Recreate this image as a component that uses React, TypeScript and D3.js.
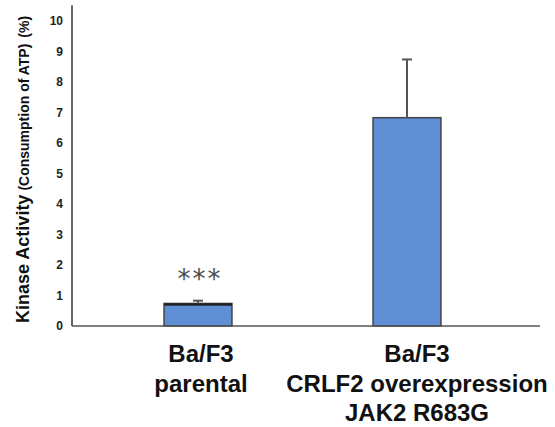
import React from "react";
import * as d3 from "d3";

// Kinase activity by cell line (mean ± error, % ATP consumed)
const groups = ["parental", "jak2"];
const groupLabels: string[][] = [
  ["Ba/F3", "parental"],
  ["Ba/F3", "CRLF2 overexpression", "JAK2 R683G"],
];
const means = [0.74, 6.83];
const errors = [0.09, 1.91];
const significance = ["***", ""];
const yTicks = [0, 1, 2, 3, 4, 5, 6, 7, 8, 9, 10];

const W = 555;
const H = 427;
const axisX = 72;
const axisRight = 540;
const yMaxLine = 10.52;

export default function App() {
  const y = d3.scaleLinear().domain([0, 10]).range([326, 21]);
  const x = d3
    .scaleBand<string>()
    .domain(groups)
    .range([93.5, 511.5])
    .paddingInner(0.675)
    .paddingOuter(0.3375);
  const bw = x.bandwidth();
  const labelShift = [3, 10];
  const font = "'Liberation Sans', Arial, Helvetica, sans-serif";

  return (
    <svg
      width={W}
      height={H}
      style={{ position: "absolute", left: 0, top: 0, background: "#fff" }}
      fontFamily={font}
    >
      {/* bars */}
      {groups.map((g, i) => (
        <rect
          key={g}
          x={x(g)!}
          y={y(means[i])}
          width={bw}
          height={y(0) - y(means[i])}
          fill="#5e8fd4"
          stroke="#444"
          strokeWidth={1.5}
        />
      ))}
      {/* darker top edge on the small bar */}
      <line
        x1={x(groups[0])!}
        x2={x(groups[0])! + bw}
        y1={y(means[0]) + 1}
        y2={y(means[0]) + 1}
        stroke="#222"
        strokeWidth={2.5}
      />
      {/* error bars */}
      {groups.map((g, i) => {
        const cx = x(g)! + bw / 2;
        const top = y(means[i] + errors[i]);
        return (
          <g key={g + "-err"} stroke="#555" strokeWidth={2}>
            <line x1={cx} x2={cx} y1={y(means[i])} y2={top} />
            <line x1={cx - 5} x2={cx + 5} y1={top} y2={top} />
          </g>
        );
      })}
      {/* significance marks */}
      {groups.map((g, i) =>
        significance[i] ? (
          <text
            key={g + "-sig"}
            x={x(g)! + bw / 2 + 2}
            y={y(means[i] + errors[i]) - 13}
            textAnchor="middle"
            fontFamily="'DejaVu Sans', sans-serif"
            fontSize={26}
            letterSpacing={2}
            fill="#4a4a4a"
          >
            {significance[i]}
          </text>
        ) : null
      )}
      {/* axes */}
      <line x1={axisX} x2={axisX} y1={y(yMaxLine)} y2={y(0)} stroke="#333" strokeWidth={1.5} />
      <line x1={axisX} x2={axisRight} y1={y(0)} y2={y(0)} stroke="#555" strokeWidth={1.5} />
      {yTicks.map((t) => (
        <text
          key={t}
          x={63}
          y={y(t)}
          dy="0.36em"
          textAnchor="end"
          fontSize={12}
          fontWeight="bold"
          fill="#222"
        >
          {t}
        </text>
      ))}
      {/* y axis title */}
      <text transform="translate(29,323) rotate(-90)" fill="#111">
        <tspan fontSize={18} fontWeight="bold">Kinase Activity</tspan>
        <tspan fontSize={14} fontWeight="bold" dx={4}>(Consumption of ATP)</tspan>
        <tspan fontSize={14} fontWeight="bold" dx={6}>(%)</tspan>
      </text>
      {/* category labels */}
      {groups.map((g, i) => (
        <text
          key={g + "-lab"}
          textAnchor="middle"
          fontSize={24}
          fontWeight="bold"
          fill="#111"
        >
          {groupLabels[i].map((line, j) => (
            <tspan key={j} x={x(g)! + bw / 2 + labelShift[i]} y={362 + j * 29.7}>
              {line}
            </tspan>
          ))}
        </text>
      ))}
    </svg>
  );
}
